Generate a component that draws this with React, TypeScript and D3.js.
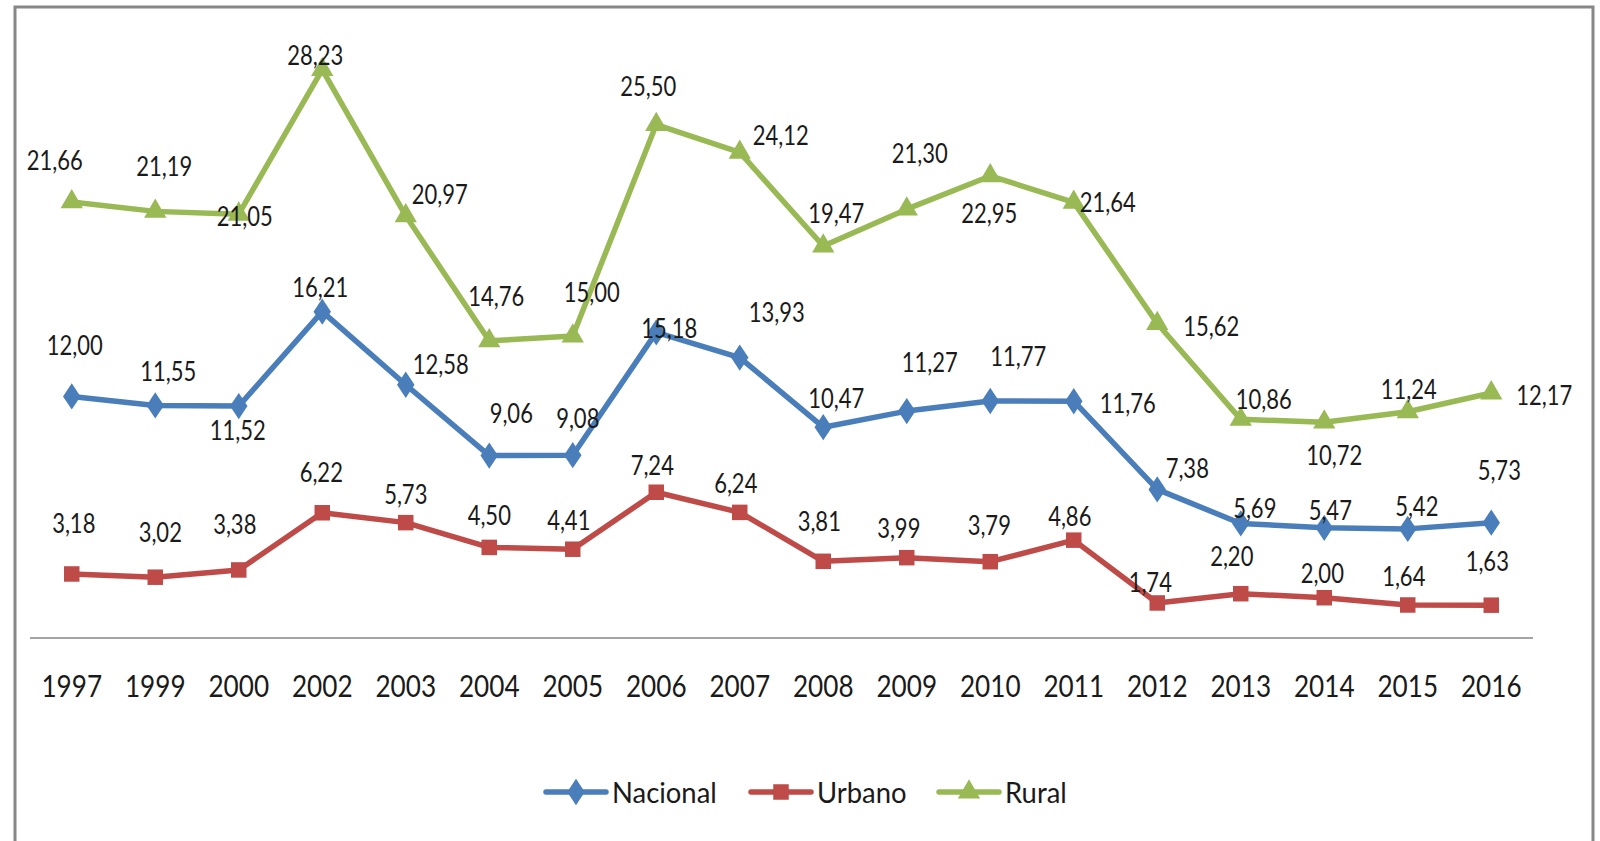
import React, { useEffect, useRef } from 'react';
import * as d3 from 'd3';

// años del eje x
const years = ['1997', '1999', '2000', '2002', '2003', '2004', '2005', '2006', '2007', '2008', '2009', '2010', '2011', '2012', '2013', '2014', '2015', '2016'];

const nacional = [12.0, 11.55, 11.52, 16.21, 12.58, 9.06, 9.08, 15.18, 13.93, 10.47, 11.27, 11.77, 11.76, 7.38, 5.69, 5.47, 5.42, 5.73];
const urbano = [3.18, 3.02, 3.38, 6.22, 5.73, 4.5, 4.41, 7.24, 6.24, 3.81, 3.99, 3.79, 4.86, 1.74, 2.2, 2.0, 1.64, 1.63];
const rural = [21.66, 21.19, 21.05, 28.23, 20.97, 14.76, 15.0, 25.5, 24.12, 19.47, 21.3, 22.95, 21.64, 15.62, 10.86, 10.72, 11.24, 12.17];

const seriesNames = ['Nacional', 'Urbano', 'Rural'];

// desplazamiento de cada etiqueta respecto a su punto (px)
const offNacional = [[3, -51], [13, -34], [-1, 24], [-2, -24], [35, -20], [22, -42], [5, -37], [13, -4], [37, -45], [13, -29], [23, -49], [28, -45], [54, 2], [30, -21], [14, -15], [6, -17], [9, -22], [8, -52]];
const offUrbano = [[2, -51], [5, -45], [-4, -46], [-1, -40], [0, -28], [0, -32], [-4, -29], [-4, -27], [-4, -29], [-4, -40], [-8, -29], [-1, -36], [-4, -24], [-7, -21], [-9, -37], [-2, -24], [-4, -29], [-4, -44]];
const offRural = [[-17, -41], [9, -45], [6, 2], [-7, -14], [34, -21], [7, -44], [19, -44], [-8, -38], [41, -17], [13, -33], [13, -56], [-1, 38], [34, 0], [54, 3], [23, -20], [10, 33], [1, -22], [53, 2]];

const W = 1600;
const H = 841;
const FONT = 'Lato, "Open Sans", sans-serif';

function drawChart(svgRef: React.RefObject<SVGSVGElement>) {
  const svg = d3.select(svgRef.current);
  svg.selectAll('*').remove();
  svg.attr('width', W).attr('height', H);

  const x = d3.scaleBand<string>().domain(years).range([30, 1533]);
  const y = d3.scaleLinear().domain([0, 30]).range([638, 34]);
  const cx = (d: string) => (x(d) as number) + x.bandwidth() / 2;
  const fmt = (v: number) => d3.format('.2f')(v).replace('.', ',');

  svg.append('rect').attr('width', W).attr('height', H).attr('fill', '#fff');
  svg
    .append('rect')
    .attr('x', 15)
    .attr('y', 7)
    .attr('width', 1578)
    .attr('height', 900)
    .attr('fill', 'none')
    .attr('stroke', '#878787')
    .attr('stroke-width', 3);

  // eje x
  svg
    .append('line')
    .attr('x1', 30)
    .attr('x2', 1533)
    .attr('y1', y(0))
    .attr('y2', y(0))
    .attr('stroke', '#868686')
    .attr('stroke-width', 1.5);

  // texto algo comprimido, como el original
  svg
    .append('g')
    .selectAll('text')
    .data(years)
    .join('text')
    .attr('transform', d => `translate(${cx(d)},697) scale(0.83,1)`)
    .attr('text-anchor', 'middle')
    .attr('font-family', FONT)
    .attr('font-size', 31.5)
    .attr('fill', '#1a1a1a')
    .text(d => d);

  const series = [
    { name: seriesNames[0], values: nacional, off: offNacional, color: '#4A7EBB', marker: d3.symbolDiamond, size: 200 },
    { name: seriesNames[1], values: urbano, off: offUrbano, color: '#BE4B48', marker: d3.symbolSquare, size: 240 },
    { name: seriesNames[2], values: rural, off: offRural, color: '#98B954', marker: d3.symbolTriangle, size: 215 },
  ];

  const line = d3
    .line<number>()
    .x((_, i) => cx(years[i]))
    .y(d => y(d));

  // dibujar de abajo hacia arriba: rural, nacional, urbano
  [series[2], series[0], series[1]].forEach(s => {
    const g = svg.append('g');
    g.append('path')
      .attr('d', line(s.values))
      .attr('fill', 'none')
      .attr('stroke', s.color)
      .attr('stroke-width', 5.5)
      .attr('stroke-linejoin', 'round');
    g.selectAll('path.m')
      .data(s.values)
      .join('path')
      .attr('class', 'm')
      .attr('d', d3.symbol().type(s.marker).size(s.size)())
      .attr('transform', (d, i) => `translate(${cx(years[i])},${y(d)})${s.marker === d3.symbolDiamond ? ' scale(1.15,1)' : ''}`)
      .attr('fill', s.color);
  });

  series.forEach(s => {
    svg
      .append('g')
      .selectAll('text')
      .data(s.values)
      .join('text')
      .attr('transform', (d, i) => `translate(${cx(years[i]) + s.off[i][0]},${y(d) + s.off[i][1]}) scale(0.83,1)`)
      .attr('dy', '0.36em')
      .attr('text-anchor', 'middle')
      .attr('font-family', FONT)
      .attr('font-size', 26.5)
      .attr('fill', '#1a1a1a')
      .text(d => fmt(d));
  });

  // leyenda
  const legendX = [546, 751, 939];
  const legendY = 792;
  series.forEach((s, i) => {
    const g = svg.append('g').attr('transform', `translate(${legendX[i]},${legendY})`);
    g.append('line')
      .attr('x1', 0)
      .attr('x2', 60)
      .attr('stroke', s.color)
      .attr('stroke-width', 5.5)
      .attr('stroke-linecap', 'round');
    g.append('path')
      .attr('d', d3.symbol().type(s.marker).size(s.size)())
      .attr('transform', `translate(30,0)${s.marker === d3.symbolDiamond ? ' scale(1.15,1)' : ''}`)
      .attr('fill', s.color);
    g.append('text')
      .attr('transform', 'translate(66,0) scale(0.93,1)')
      .attr('dy', '0.36em')
      .attr('font-family', FONT)
      .attr('font-size', 29.5)
      .attr('fill', '#1a1a1a')
      .text(s.name);
  });
}

const App = () => {
  const svg = useRef<SVGSVGElement>(null);

  useEffect(() => {
    drawChart(svg);
  }, [svg]);

  return (
    <div style={{ position: 'absolute', left: 0, top: 0 }}>
      <svg ref={svg} style={{ display: 'block' }} />
    </div>
  );
};

export default App;
